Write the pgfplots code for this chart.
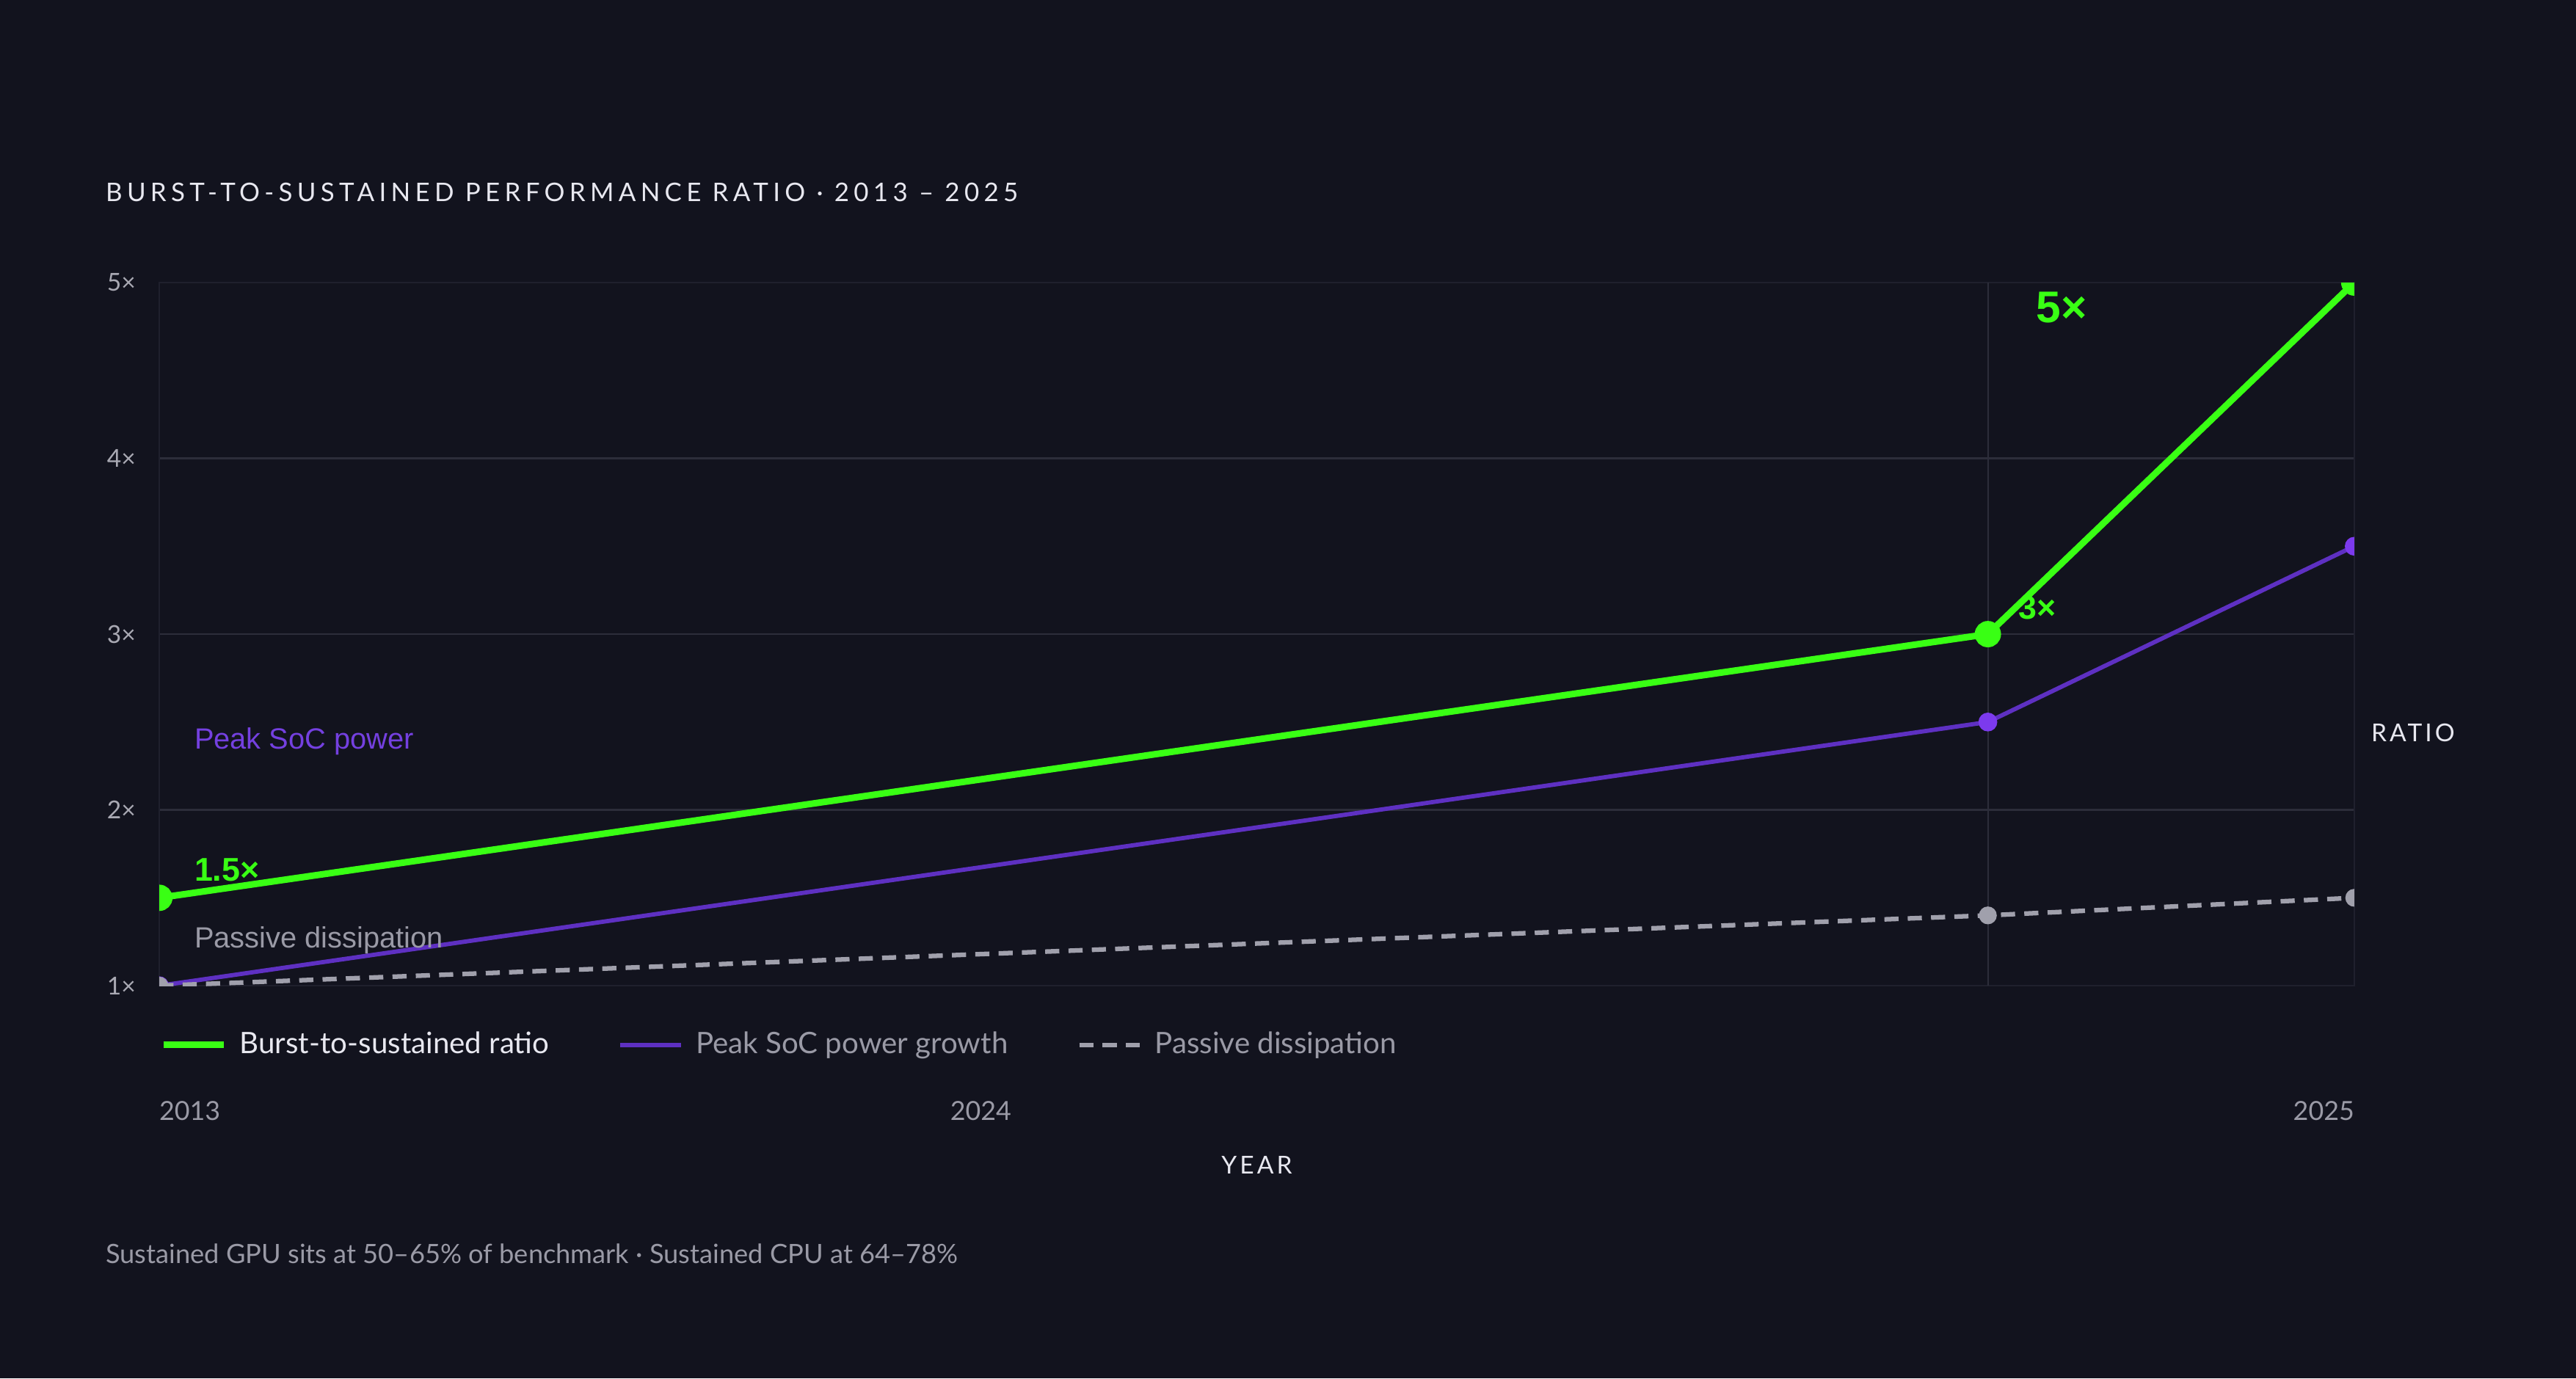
\documentclass[border=0pt]{standalone}
\usepackage{pgfplots}
\pgfplotsset{compat=1.18}
\usepackage{fontspec}
\setmainfont{Lato}
\newfontfamily\arial{Liberation Sans}

\definecolor{bg}{HTML}{12131E}
\definecolor{neon}{HTML}{39FF14}
\definecolor{violetline}{HTML}{5E30C2}
\definecolor{violetmark}{HTML}{7C3AED}
\definecolor{violettext}{HTML}{7440E0}
\definecolor{dashgray}{HTML}{A0A0AC}
\definecolor{softwhite}{HTML}{E8E8F0}
\definecolor{textgray}{HTML}{9A9AA6}
\definecolor{gridcol}{HTML}{2C2D3A}
\definecolor{framecol}{HTML}{1F202D}

\begin{document}
\begin{tikzpicture}
\useasboundingbox (-48.5pt,-119.5pt) rectangle (735.5pt,300pt);
\fill[bg] (-48.5pt,-119.5pt) rectangle (735.5pt,300pt);

\begin{axis}[
  at={(0,0)}, anchor=south west,
  scale only axis,
  width=668pt, height=214pt,
  xmin=0, xmax=1336,
  ymin=1, ymax=5,
  axis line style={framecol, line width=0.6pt},
  major tick length=0pt,
  xtick={0,500,1336},
  xticklabels={\makebox[0pt][l]{2013},2024,\makebox[0pt][r]{2025}},
  xticklabel style={anchor=center, inner sep=0pt, yshift=-38pt,
    font=\fontsize{8}{9}\selectfont, text=textgray},
  extra x ticks={1113},
  extra x tick labels={},
  extra x tick style={grid=major, major grid style={gridcol, line width=0.5pt}},
  ytick={1,2,3,4,5},
  yticklabels={1×,2×,3×,4×,5×},
  yticklabel style={anchor=east, inner sep=0pt, xshift=-7pt,
    font=\fontsize{7.5}{9}\selectfont, text=textgray!85},
  ymajorgrids=true,
  major grid style={gridcol, line width=0.6pt},
  xlabel={\addfontfeatures{LetterSpace=12}YEAR},
  every axis x label/.style={at={(axis description cs:0.5,0)}, anchor=center,
    yshift=-54.5pt, font=\fontsize{7.5}{9}\selectfont, text=softwhite},
  ylabel={\addfontfeatures{LetterSpace=12}RATIO},
  every axis y label/.style={at={(axis description cs:1,0.36)}, anchor=west,
    inner sep=0pt, xshift=5pt, font=\fontsize{7.5}{9}\selectfont, text=softwhite},
  title={\addfontfeatures{LetterSpace=18}BURST-TO-SUSTAINED PERFORMANCE RATIO · 2013 – 2025},
  every axis title/.style={at={(axis description cs:0,1)}, anchor=west,
    inner sep=0pt, xshift=-16.5pt, yshift=27.5pt, font=\fontsize{7.8}{9}\selectfont, text=softwhite},
  clip marker paths=true,
  legend style={at={(axis description cs:0,0)}, anchor=west, yshift=-18pt,
    draw=none, fill=none, inner sep=0pt,
    font=\fontsize{9}{10}\selectfont,
    legend columns=-1,
    /tikz/every odd column/.append style={column sep=3.8pt},
    /tikz/every even column/.append style={column sep=21pt},
    nodes={inner sep=0pt}},
  legend image code/.code={\draw[#1, mark=none] (0pt,0pt) -- (18.5pt,0pt);},
]

\addplot[neon, line width=2pt, mark=*, mark size=3pt,
  mark options={solid, fill=neon, draw=neon}]
  coordinates {(0,1.5) (1113,3.0) (1336,5.0)};
\addlegendentry{\textcolor{softwhite}{Burst-to-sustained ratio}}

\addplot[violetline, line width=1.3pt, mark=*, mark size=2.2pt,
  mark options={solid, fill=violetmark, draw=violetmark}]
  coordinates {(0,1.0) (1113,2.5) (1336,3.5)};
\addlegendentry{\textcolor{textgray}{Peak SoC power growth}}

\addplot[dashgray, line width=1.4pt, dash pattern=on 4.3pt off 2.8pt, mark=*, mark size=2pt,
  mark options={solid, fill=dashgray, draw=dashgray}]
  coordinates {(0,1.0) (1113,1.4) (1336,1.5)};
\addlegendentry{\textcolor{textgray}{Passive dissipation}}

\node[anchor=center, text=neon, font=\arial\bfseries\fontsize{13.5}{14}\selectfont]
  at (axis cs:1158,4.86) {5×};
\node[anchor=center, text=neon, font=\arial\bfseries\fontsize{10}{11}\selectfont]
  at (axis cs:1143,3.15) {3×};
\node[anchor=west, inner sep=0pt, text=neon, font=\arial\bfseries\fontsize{10}{11}\selectfont]
  at (axis cs:21,1.66) {1.5×};
\node[anchor=west, inner sep=0pt, text=violettext, font=\arial\fontsize{8.9}{10}\selectfont]
  at (axis cs:21,2.39) {Peak SoC power};
\node[anchor=west, inner sep=0pt, text=textgray, font=\arial\fontsize{8.9}{10}\selectfont]
  at (axis cs:21,1.26) {Passive dissipation};
\end{axis}

\node[anchor=west, inner sep=0pt, text=textgray, font=\fontsize{8.1}{9}\selectfont]
  at (-16.5pt,-81.5pt) {Sustained GPU sits at 50–65\% of benchmark · Sustained CPU at 64–78\%};
\end{tikzpicture}
\end{document}
